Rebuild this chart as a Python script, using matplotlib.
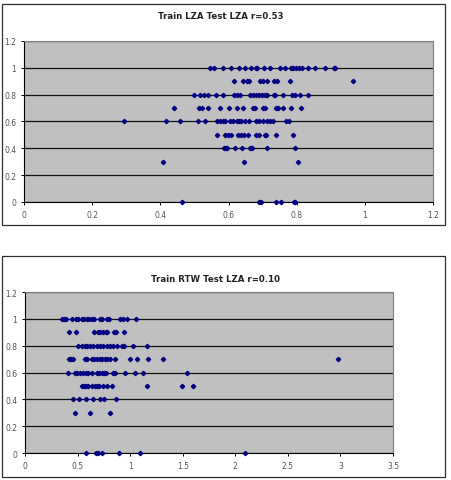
"""
Two Excel-style scatter charts: Train LZA / Train RTW vs Test LZA
"""
import matplotlib.pyplot as plt
from matplotlib.patches import Rectangle
from matplotlib.ticker import MultipleLocator

# top chart, Train LZA Test LZA, grouped by y value
lza_rows = {
    1.0: [0.546, 0.556, 0.585, 0.608, 0.632, 0.648, 0.665, 0.681, 0.684, 0.703,
          0.722, 0.751, 0.767, 0.783, 0.790, 0.798, 0.806, 0.815, 0.834, 0.854,
          0.883, 0.908, 0.913],
    0.9: [0.617, 0.642, 0.653, 0.661, 0.692, 0.702, 0.712, 0.732, 0.743, 0.781, 0.964],
    0.8: [0.498, 0.517, 0.528, 0.541, 0.562, 0.585, 0.617, 0.626, 0.634, 0.663,
          0.673, 0.681, 0.688, 0.697, 0.707, 0.712, 0.732, 0.736, 0.759, 0.785,
          0.795, 0.810, 0.834],
    0.7: [0.440, 0.514, 0.521, 0.541, 0.576, 0.602, 0.626, 0.642, 0.671, 0.678,
          0.702, 0.707, 0.739, 0.746, 0.760, 0.782, 0.813],
    0.6: [0.294, 0.416, 0.457, 0.511, 0.532, 0.565, 0.575, 0.583, 0.590, 0.604,
          0.614, 0.626, 0.632, 0.638, 0.648, 0.661, 0.681, 0.690, 0.702, 0.712,
          0.722, 0.730, 0.769, 0.776],
    0.5: [0.567, 0.590, 0.599, 0.606, 0.629, 0.636, 0.644, 0.658, 0.681, 0.688,
          0.707, 0.710, 0.739, 0.790],
    0.4: [0.587, 0.592, 0.596, 0.619, 0.639, 0.663, 0.669, 0.712, 0.796],
    0.3: [0.408, 0.646, 0.803],
    0.0: [0.463, 0.690, 0.694, 0.738, 0.753, 0.792, 0.796],
}

# bottom chart, Train RTW Test LZA
rtw_rows = {
    1.0: [0.349, 0.371, 0.387, 0.444, 0.486, 0.508, 0.539, 0.562, 0.587, 0.612,
          0.635, 0.660, 0.714, 0.736, 0.778, 0.803, 0.905, 0.930, 0.968, 1.057],
    0.9: [0.422, 0.486, 0.657, 0.698, 0.714, 0.746, 0.771, 0.784, 0.851, 0.866, 0.946],
    0.8: [0.508, 0.539, 0.571, 0.593, 0.619, 0.651, 0.682, 0.714, 0.746, 0.778,
          0.809, 0.835, 0.873, 0.920, 0.943, 1.031, 1.158],
    0.7: [0.419, 0.438, 0.460, 0.571, 0.593, 0.635, 0.657, 0.682, 0.714, 0.730,
          0.762, 0.778, 0.809, 0.857, 1.000, 1.063, 1.174, 1.311, 2.974],
    0.6: [0.406, 0.476, 0.498, 0.524, 0.555, 0.581, 0.603, 0.635, 0.682, 0.708,
          0.730, 0.752, 0.771, 0.841, 0.857, 0.955, 1.047, 1.120, 1.542],
    0.5: [0.539, 0.562, 0.581, 0.603, 0.635, 0.666, 0.689, 0.708, 0.739, 0.778,
          0.825, 1.162, 1.492, 1.596],
    0.4: [0.454, 0.517, 0.581, 0.644, 0.714, 0.755, 0.870],
    0.3: [0.473, 0.619, 0.809],
    0.0: [0.581, 0.673, 0.692, 0.730, 0.895, 1.098, 2.088],
}

TITLES = ["Train LZA Test LZA r=0.53", "Train RTW Test LZA r=0.10"]
X_LIMITS = [(0, 1.2), (0, 3.5)]
X_STEPS = [0.2, 0.5]


def flatten(rows):
    xs, ys = [], []
    for yval, xvals in rows.items():
        xs.extend(xvals)
        ys.extend([yval] * len(xvals))
    return xs, ys


def format_axes(axes, xlim, xstep):
    axes.set_facecolor("#c0c0c0")
    axes.set_xlim(*xlim)
    axes.set_ylim(0, 1.2)
    axes.xaxis.set_major_locator(MultipleLocator(xstep))
    axes.yaxis.set_major_locator(MultipleLocator(0.2))
    axes.yaxis.grid(True, color="#111111", lw=0.9)
    axes.set_axisbelow(True)
    for side in ["top", "right"]:
        axes.spines[side].set_color("#808080")
        axes.spines[side].set_linewidth(0.8)
    for side in ["left", "bottom"]:
        axes.spines[side].set_color("black")
        axes.spines[side].set_linewidth(0.8)
    axes.tick_params(direction="out", length=2.5, width=0.7,
                     labelsize=5.5, labelcolor="#555555", pad=3)
    axes.xaxis.set_major_formatter(lambda v, _p: f"{v:g}")
    axes.yaxis.set_major_formatter(lambda v, _p: f"{v:g}")


def main():
    fig = plt.figure(figsize=(4.51, 4.81), dpi=100)

    # outer chart frames
    for y0 in [1 - 226 / 481, 1 - 478 / 481]:
        fig.patches.append(Rectangle((2 / 451, y0), 443 / 451, 221 / 481,
                                     transform=fig.transFigure, fill=False,
                                     edgecolor="#303030", lw=0.9))

    positions = [[0.0532, 0.578, 0.907, 0.3347],
                 [0.0554, 0.0561, 0.816, 0.3347]]
    title_pos = [(0.49, 0.965), (0.477, 0.418)]

    for i, rows in enumerate([lza_rows, rtw_rows]):
        axes = fig.add_axes(positions[i])
        format_axes(axes, X_LIMITS[i], X_STEPS[i])
        xs, ys = flatten(rows)
        axes.plot(xs, ys, ls="none", marker="D", ms=2.2,
                  color="#000080", clip_on=False, zorder=3)
        fig.text(*title_pos[i], TITLES[i], ha="center", va="center",
                 fontsize=6.2, fontweight="bold", color="#222222")

    fig.savefig("out.png", dpi=100)


if __name__ == "__main__":
    main()
